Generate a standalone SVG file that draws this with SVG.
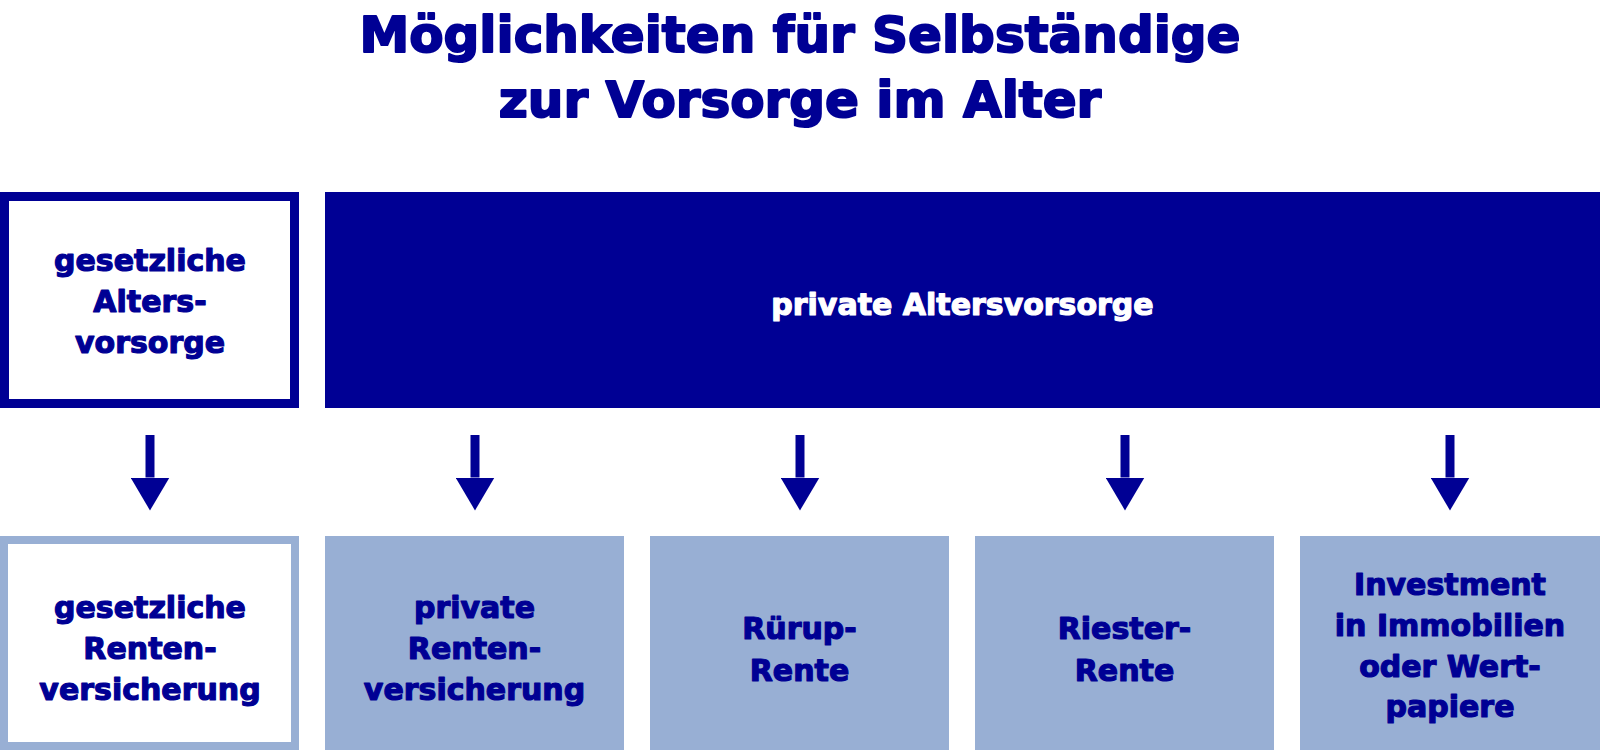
<svg xmlns="http://www.w3.org/2000/svg" width="1600" height="750" viewBox="0 0 1600 750">
  <defs>
    <style>
      .title { font-family: "DejaVu Sans", "Liberation Sans", sans-serif; font-weight: bold; font-size: 50px; fill: #000094; stroke: #000094; stroke-width: 2; stroke-linejoin: round; text-anchor: middle; }
      .lbl { font-family: "DejaVu Sans", "Liberation Sans", sans-serif; font-weight: bold; font-size: 30px; fill: #000094; stroke: #000094; stroke-width: 1.2; stroke-linejoin: round; text-anchor: middle; }
      .lbl-w { fill: #ffffff; stroke: #ffffff; }
      .outline-dark { fill: #ffffff; stroke: #000094; stroke-width: 9; }
      .outline-light { fill: #ffffff; stroke: #98afd4; stroke-width: 8; }
      .dark { fill: #000094; }
      .light { fill: #98afd4; }
      .conn { stroke: #000094; stroke-width: 9; fill: none; }
    </style>
    <marker id="head" markerUnits="userSpaceOnUse" markerWidth="33" markerHeight="39" viewBox="0 -19.5 33 39" refX="0" refY="0" orient="auto">
      <path d="M0,-19.5 L33,0 L0,19.5 Z" fill="#000094"/>
    </marker>
  </defs>

  <rect width="1600" height="750" fill="#ffffff"/>

  <g id="title">
    <text class="title" x="800" y="52">Möglichkeiten für Selbständige</text>
    <text class="title" x="800" y="117">zur Vorsorge im Alter</text>
  </g>

  <g id="node-gesetzliche-altersvorsorge">
    <rect class="outline-dark" x="4.5" y="196.5" width="290" height="207"/>
    <text class="lbl" x="150" y="271">gesetzliche</text>
    <text class="lbl" x="150" y="312">Alters-</text>
    <text class="lbl" x="150" y="353">vorsorge</text>
  </g>

  <g id="node-private-altersvorsorge">
    <rect class="dark" x="325" y="192" width="1275" height="216"/>
    <text class="lbl lbl-w" x="962.5" y="315">private Altersvorsorge</text>
  </g>

  <g id="connectors">
    <line class="conn" x1="150" y1="435" x2="150" y2="477.5" marker-end="url(#head)"/>
    <line class="conn" x1="475" y1="435" x2="475" y2="477.5" marker-end="url(#head)"/>
    <line class="conn" x1="800" y1="435" x2="800" y2="477.5" marker-end="url(#head)"/>
    <line class="conn" x1="1125" y1="435" x2="1125" y2="477.5" marker-end="url(#head)"/>
    <line class="conn" x1="1450" y1="435" x2="1450" y2="477.5" marker-end="url(#head)"/>
  </g>

  <g id="node-gesetzliche-rentenversicherung">
    <rect class="outline-light" x="4" y="540" width="291" height="206"/>
    <text class="lbl" x="150" y="618">gesetzliche</text>
    <text class="lbl" x="150" y="659">Renten-</text>
    <text class="lbl" x="150" y="700">versicherung</text>
  </g>

  <g id="node-private-rentenversicherung">
    <rect class="light" x="325" y="536" width="299" height="214"/>
    <text class="lbl" x="474.5" y="618">private</text>
    <text class="lbl" x="474.5" y="659">Renten-</text>
    <text class="lbl" x="474.5" y="700">versicherung</text>
  </g>

  <g id="node-ruerup-rente">
    <rect class="light" x="650" y="536" width="299" height="214"/>
    <text class="lbl" x="799.5" y="639">Rürup-</text>
    <text class="lbl" x="799.5" y="681">Rente</text>
  </g>

  <g id="node-riester-rente">
    <rect class="light" x="975" y="536" width="299" height="214"/>
    <text class="lbl" x="1124.5" y="639">Riester-</text>
    <text class="lbl" x="1124.5" y="681">Rente</text>
  </g>

  <g id="node-investment">
    <rect class="light" x="1300" y="536" width="300" height="214"/>
    <text class="lbl" x="1450" y="595">Investment</text>
    <text class="lbl" x="1450" y="636">in Immobilien</text>
    <text class="lbl" x="1450" y="677">oder Wert-</text>
    <text class="lbl" x="1450" y="717">papiere</text>
  </g>
</svg>
